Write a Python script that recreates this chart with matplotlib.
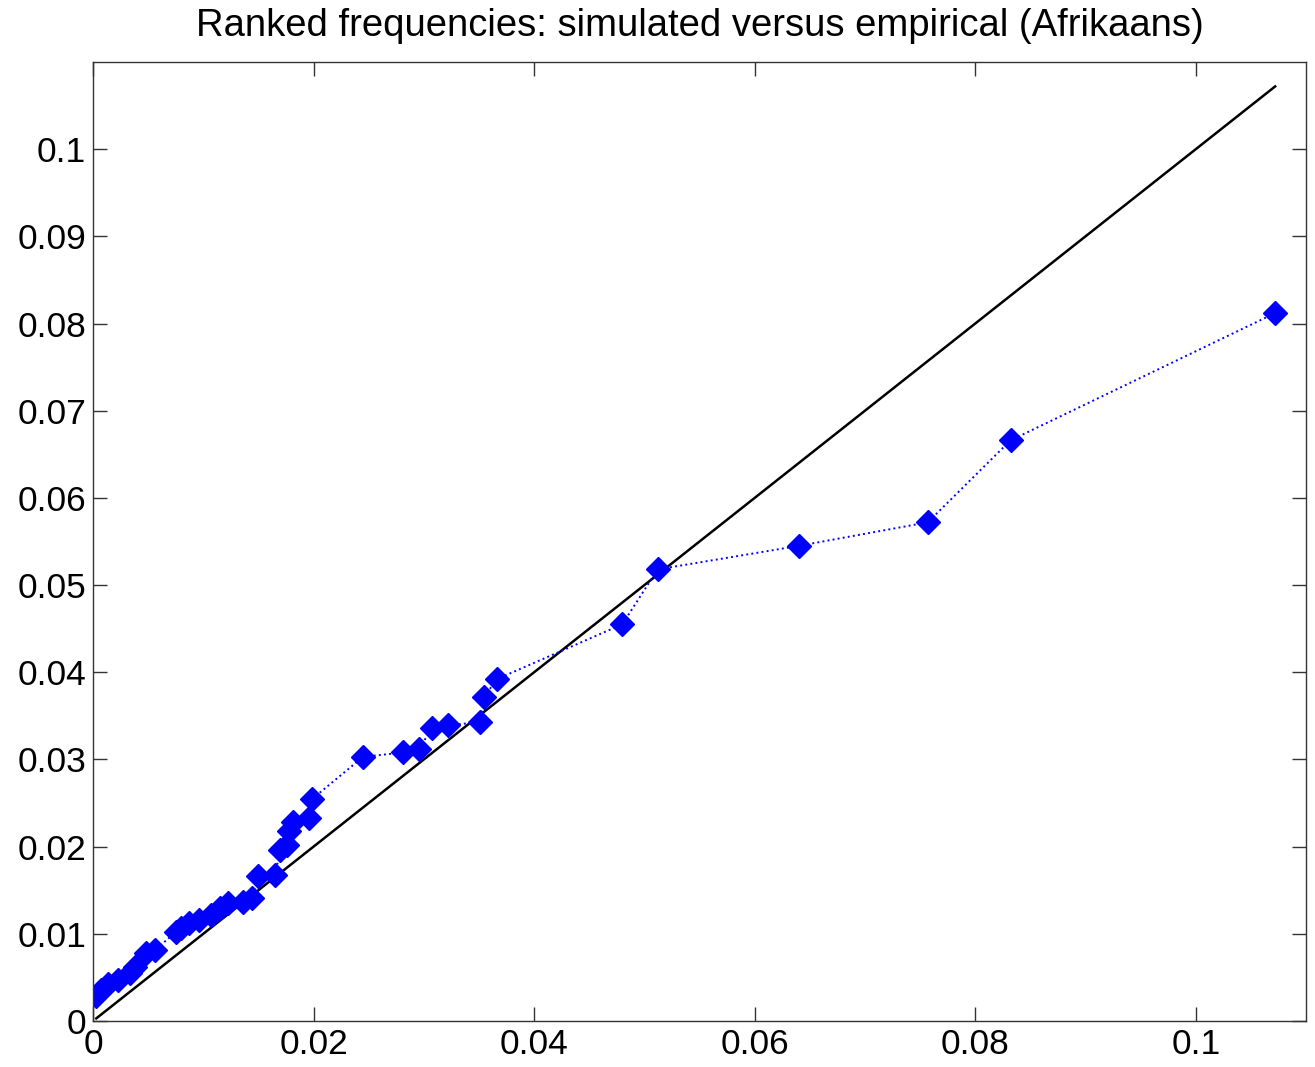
import matplotlib
matplotlib.use("Agg")
import matplotlib.pyplot as plt
import matplotlib.ticker as ticker

# simulated (x) versus empirical (y) ranked frequencies
simulated = [0.1072, 0.0832, 0.0757, 0.0640, 0.0512, 0.0480, 0.0366, 0.0355,
             0.0351, 0.0322, 0.0307, 0.0296, 0.0281, 0.0245, 0.0199, 0.0196,
             0.0181, 0.0178, 0.0176, 0.0170, 0.0165, 0.0150, 0.0144, 0.0136,
             0.0122, 0.0115, 0.0107, 0.0096, 0.0087, 0.0080, 0.0075, 0.0056,
             0.0048, 0.0038, 0.0034, 0.0023, 0.0014, 0.0007, 0.0003]
empirical = [0.0812, 0.0666, 0.0572, 0.0545, 0.0518, 0.0455, 0.0392, 0.0372,
             0.0343, 0.0339, 0.0336, 0.0312, 0.0308, 0.0303, 0.0255, 0.0233,
             0.0228, 0.0218, 0.0202, 0.0196, 0.0168, 0.0166, 0.0141, 0.0137,
             0.0135, 0.0130, 0.0122, 0.0116, 0.0112, 0.0107, 0.0102, 0.0081,
             0.0078, 0.0062, 0.0055, 0.0047, 0.0042, 0.0035, 0.0029]

ticks = [0, 0.02, 0.04, 0.06, 0.08, 0.1]
yticks = [0, 0.01, 0.02, 0.03, 0.04, 0.05, 0.06, 0.07, 0.08, 0.09, 0.1]

plt.rcParams['font.family'] = ['Liberation Sans', 'DejaVu Sans']

fig = plt.figure(figsize=(13.15, 10.67), dpi=100)
ax = fig.add_axes([0.0707, 0.0431, 0.9225, 0.8988])

# reference diagonal
lo, hi = min(simulated), max(simulated)
ax.plot([lo, hi], [lo, hi], color='black', linewidth=1.8)

# data
ax.plot(simulated, empirical, linestyle=':', color='blue', linewidth=1.4,
        marker='D', markersize=12.5, markerfacecolor='blue', markeredgecolor='blue')

ax.set_xlim(0, 0.11)
ax.set_ylim(0, 0.11)
ax.set_xticks(ticks)
ax.set_yticks(yticks)
fmt = ticker.FuncFormatter(lambda v, p: '%g' % round(v, 4))
ax.xaxis.set_major_formatter(fmt)
ax.yaxis.set_major_formatter(fmt)
ax.tick_params(direction='in', length=10, width=1, colors='#333333',
               labelcolor='black', labelsize=25.5, top=True, right=True)
ax.tick_params(axis='x', pad=5)
ax.tick_params(axis='y', pad=5)
for s in ax.spines.values():
    s.set_color('#333333')
    s.set_linewidth(1)

ax.set_title('Ranked frequencies: simulated versus empirical (Afrikaans)',
             fontsize=27.5, pad=19)

fig.savefig('out.png', dpi=100)
